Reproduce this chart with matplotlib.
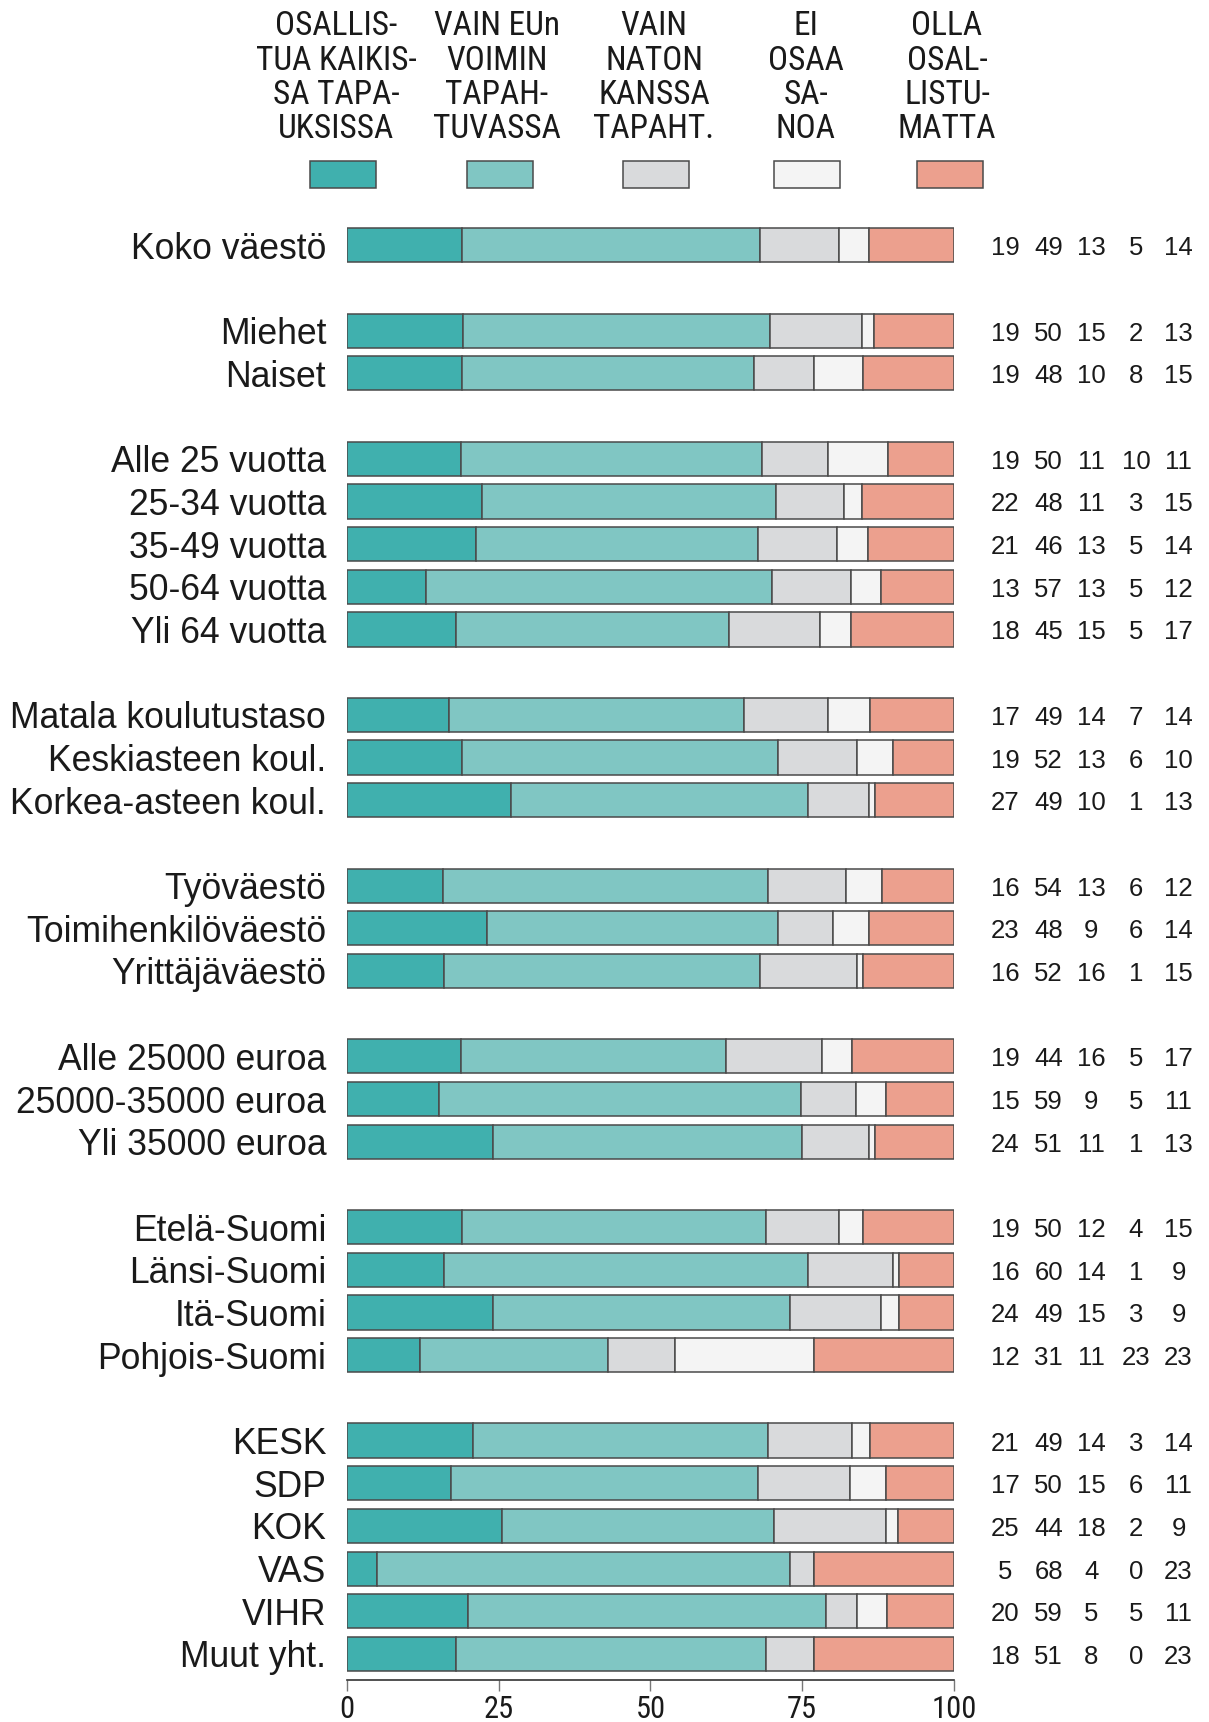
import matplotlib.pyplot as plt
import numpy as np
from matplotlib.patches import Rectangle

# ── Data ──────────────────────────────────────────────────────────────────────

categories = [
    "Koko väestö",
    "Miehet", "Naiset",
    "Alle 25 vuotta", "25-34 vuotta", "35-49 vuotta", "50-64 vuotta", "Yli 64 vuotta",
    "Matala koulutustaso", "Keskiasteen koul.", "Korkea-asteen koul.",
    "Työväestö", "Toimihenkilöväestö", "Yrittäjäväestö",
    "Alle 25000 euroa", "25000-35000 euroa", "Yli 35000 euroa",
    "Etelä-Suomi", "Länsi-Suomi", "Itä-Suomi", "Pohjois-Suomi",
    "KESK", "SDP", "KOK", "VAS", "VIHR", "Muut yht.",
]
# row slot of each category (blank slots separate the groups)
slots = [0, 2, 3, 5, 6, 7, 8, 9, 11, 12, 13, 15, 16, 17,
         19, 20, 21, 23, 24, 25, 26, 28, 29, 30, 31, 32, 33]

kaikissa = [19, 19, 19, 19, 22, 21, 13, 18, 17, 19, 27, 16, 23, 16,
            19, 15, 24, 19, 16, 24, 12, 21, 17, 25, 5, 20, 18]
eu_voimin = [49, 50, 48, 50, 48, 46, 57, 45, 49, 52, 49, 54, 48, 52,
             44, 59, 51, 50, 60, 49, 31, 49, 50, 44, 68, 59, 51]
nato = [13, 15, 10, 11, 11, 13, 13, 15, 14, 13, 10, 13, 9, 16,
        16, 9, 11, 12, 14, 15, 11, 14, 15, 18, 4, 5, 8]
eos = [5, 2, 8, 10, 3, 5, 5, 5, 7, 6, 1, 6, 6, 1,
       5, 5, 1, 4, 1, 3, 23, 3, 6, 2, 0, 5, 0]
ei_osallistu = [14, 13, 15, 11, 15, 14, 12, 17, 14, 10, 13, 12, 14, 15,
                17, 11, 13, 15, 9, 9, 23, 14, 11, 9, 23, 11, 23]

series_labels = [
    "OSALLIS-\nTUA KAIKIS-\nSA TAPA-\nUKSISSA",
    "VAIN EUn\nVOIMIN\nTAPAH-\nTUVASSA",
    "VAIN\nNATON\nKANSSA\nTAPAHT.",
    "EI\nOSAA\nSA-\nNOA",
    "OLLA\nOSAL-\nLISTU-\nMATTA",
]
colors = ["#40b0ae", "#80c6c3", "#d9dadc", "#f4f4f4", "#eca08e"]

xticks = [0, 25, 50, 75, 100]

# ── Plot ──────────────────────────────────────────────────────────────────────

NARROW = ["Roboto Condensed", "Liberation Sans Narrow", "Open Sans Condensed",
          "DejaVu Sans"]
SANS = ["Liberation Sans", "DejaVu Sans"]
EDGE = "#4a4a4a"

values = np.array([kaikissa, eu_voimin, nato, eos, ei_osallistu], dtype=float)
shares = values / values.sum(axis=0) * 100   # bars always fill 0..100
y = np.array(slots)

fig = plt.figure(figsize=(12.09, 17.22), dpi=100)
ax = fig.add_axes([0.287, 0.0244, 0.502, 0.848])

left = np.zeros(len(categories))
for k in range(len(values)):
    ax.barh(y, shares[k], left=left, height=0.8, color=colors[k],
            edgecolor=EDGE, linewidth=1.1)
    left += shares[k]

# value columns to the right of the bars
col_x = [108.4, 115.6, 122.6, 130.0, 137.0]
for k in range(len(values)):
    for yi, v in zip(y, values[k]):
        ax.text(col_x[k], yi + 0.07, f"{int(v)}", ha="center", va="center",
                fontsize=18.5, family=SANS, color="#1a1a1a", clip_on=False)

ax.set_xlim(0, 100)
ax.set_ylim(33.61, -0.6)
ax.set_yticks(y, categories)
ax.tick_params(axis="y", length=0, pad=15, labelsize=25.6)
for t in ax.get_yticklabels():
    t.set_family(SANS)
    t.set_color("#1a1a1a")
ax.set_xticks(xticks, [str(v) for v in xticks])
ax.tick_params(axis="x", length=8, width=1, color="#777777", labelsize=22,
               pad=2.5)
for t in ax.get_xticklabels():
    t.set_family(NARROW)
    t.set_color("#1a1a1a")
for side in ["top", "right", "left"]:
    ax.spines[side].set_visible(False)
ax.spines["bottom"].set_color("#333333")
ax.spines["bottom"].set_linewidth(1.2)

# legend: text blocks above colour swatches
leg_x = [336, 497, 654, 806, 947]      # pixel centres
sw_x = [343, 500, 656, 807, 950]
W, H = 1209, 1722
for cx, sx, lab, c in zip(leg_x, sw_x, series_labels, colors):
    fig.text(cx / W, 1 - 10 / H, lab, ha="center", va="top", fontsize=24,
             family=NARROW, color="#1a1a1a", linespacing=1.1)
    fig.add_artist(Rectangle(((sx - 33) / W, 1 - 188 / H), 66 / W, 27 / H,
                             transform=fig.transFigure, facecolor=c,
                             edgecolor=EDGE, linewidth=1.1))

fig.savefig("out.png", dpi=100)
